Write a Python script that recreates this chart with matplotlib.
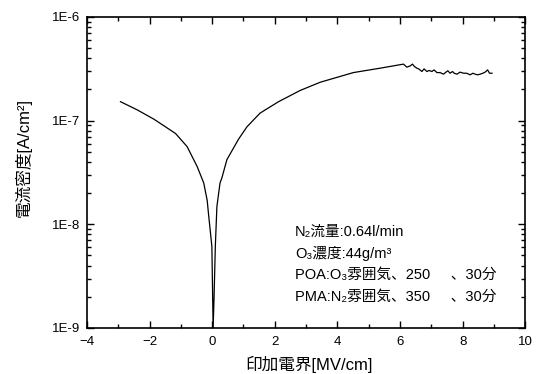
import matplotlib
matplotlib.use("Agg")
import matplotlib.pyplot as plt
from matplotlib.ticker import MultipleLocator, LogLocator, FuncFormatter, NullFormatter
import numpy as np

plt.rcParams['font.family'] = ['Liberation Sans', 'DejaVu Sans', 'Noto Sans CJK JP']

# electric field [MV/cm] and current density [A/cm2]
field = [-2.93, -2.40, -1.86, -1.17, -0.80, -0.48, -0.27, -0.16, -0.12, -0.01, 0.03,
         0.06, 0.10, 0.15, 0.25, 0.31, 0.47, 0.84, 1.11, 1.53, 2.12, 2.81, 3.45,
         4.51, 5.37, 6.11, 6.22, 6.33, 6.40, 6.46, 6.54, 6.61, 6.70, 6.77, 6.86,
         6.93, 7.02, 7.09, 7.18, 7.28, 7.39, 7.47, 7.53, 7.60, 7.68, 7.73, 7.82,
         7.92, 8.03, 8.13, 8.24, 8.33, 8.40, 8.48, 8.56, 8.65, 8.72, 8.80, 8.86, 8.94]
current = [1.52e-7, 1.27e-7, 1.03e-7, 7.5e-8, 5.6e-8, 3.6e-8, 2.5e-8, 1.7e-8, 1.28e-8, 6.1e-9, 1.0e-9,
           2.0e-9, 6.1e-9, 1.48e-8, 2.5e-8, 2.8e-8, 4.2e-8, 6.6e-8, 8.7e-8, 1.18e-7, 1.52e-7, 1.95e-7, 2.34e-7,
           2.9e-7, 3.2e-7, 3.5e-7, 3.27e-7, 3.37e-7, 3.50e-7, 3.32e-7, 3.20e-7, 3.13e-7, 2.97e-7, 3.15e-7, 2.97e-7,
           3.04e-7, 2.97e-7, 3.08e-7, 2.90e-7, 2.90e-7, 2.80e-7, 2.93e-7, 3.02e-7, 2.86e-7, 2.97e-7, 2.86e-7, 2.80e-7,
           2.93e-7, 2.86e-7, 2.86e-7, 2.76e-7, 2.86e-7, 2.80e-7, 2.76e-7, 2.80e-7, 2.86e-7, 2.93e-7, 3.08e-7, 2.86e-7, 2.86e-7]

notes = ["N₂流量:0.64l/min",
         "O₃濃度:44g/m³",
         "POA:O₃雰囲気、250     、30分",
         "PMA:N₂雰囲気、350     、30分"]

fig = plt.figure(figsize=(5.37, 3.74), dpi=100)
ax = fig.add_axes([0.162, 0.123, 0.816, 0.832])

ax.plot(field, current, color='black', lw=0.9)
ax.set_yscale('log')
ax.set_xlim(-4, 10)
ax.set_ylim(1e-9, 1e-6)

ax.xaxis.set_major_locator(MultipleLocator(2))
ax.xaxis.set_minor_locator(MultipleLocator(1))
ax.yaxis.set_major_locator(LogLocator(base=10))
ax.yaxis.set_minor_locator(LogLocator(base=10, subs=np.arange(2, 10)))
ax.yaxis.set_major_formatter(FuncFormatter(lambda v, p: "1E-%d" % round(-np.log10(v))))
ax.yaxis.set_minor_formatter(NullFormatter())

ax.tick_params(which='both', direction='in', top=True, right=True, labelsize=9.5, width=1)
ax.tick_params(which='major', length=5)
ax.tick_params(which='minor', length=3)
ax.tick_params(axis='x', pad=6)
ax.tick_params(axis='y', pad=5)
for s in ax.spines.values():
    s.set_linewidth(1.2)

ax.set_xlabel("印加電界[MV/cm]", fontsize=12)
ax.set_ylabel("電流密度[A/cm²]", fontsize=12)
ax.xaxis.set_label_coords(0.506, -0.09)
ax.yaxis.set_label_coords(-0.127, 0.547)

for i, t in enumerate(notes):
    ax.text(0.475, 0.309 - i * 0.0695, t, transform=ax.transAxes, fontsize=10.5, va='center', ha='left')

fig.savefig("out.png", dpi=100)
